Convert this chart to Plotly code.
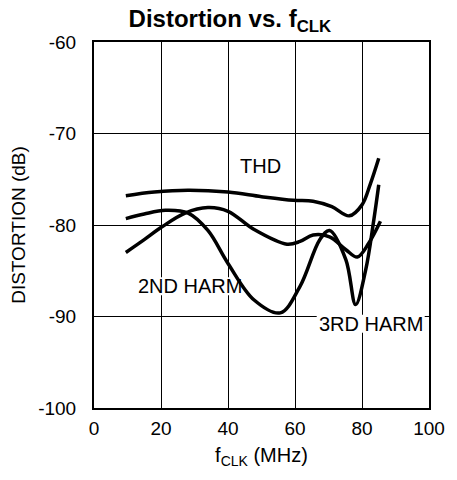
import plotly.graph_objects as go

# Distortion versus clock frequency (dB), read at sample frequencies (MHz)
thd_f = [9.5, 18, 28, 40, 50, 59.5, 65.4, 71, 76.2, 80, 82.5, 85]
thd_db = [-76.8, -76.4, -76.2, -76.4, -76.9, -77.3, -77.4, -78.0, -79.0, -77.8, -75.5, -72.7]

h3_f = [9.5, 15, 21.3, 28.1, 34, 40, 47.8, 55.6, 61.5, 67.4, 70.3, 75.2, 78.1, 81.1, 83.5, 85]
h3_db = [-79.3, -78.8, -78.4, -78.7, -80.6, -84.2, -88.2, -89.6, -86.7, -81.6, -80.6, -83.8, -88.7, -84.9, -79.5, -75.6]

h2_f = [9.5, 15, 20.3, 27.2, 34, 40, 47.8, 57.6, 61.5, 65.4, 70.3, 75.2, 78.6, 82, 85.5]
h2_db = [-83.0, -81.6, -80.2, -78.7, -78.1, -78.5, -80.5, -82.1, -81.8, -81.1, -81.3, -82.7, -83.5, -82.0, -79.6]

x_ticks = [0, 20, 40, 60, 80, 100]
y_ticks = [-100, -90, -80, -70, -60]
y_tick_text = ["-100", "-90", "-80", "-70", "-60"]

# Curve labels: (text, x, y, label box width/height in px)
labels = [
    ("THD", 49.6, -73.6, 0, 0),
    ("2ND HARM", 28.7, -86.7, 106, 18),
    ("3RD HARM", 82.6, -90.8, 108, 18),
]

FONT = "Liberation Sans, Arial, sans-serif"

fig = go.Figure()
for xs, ys in [(thd_f, thd_db), (h3_f, h3_db), (h2_f, h2_db)]:
    fig.add_trace(go.Scatter(
        x=xs, y=ys, mode="lines",
        line=dict(color="black", width=3.5, shape="spline", smoothing=1.0),
        showlegend=False, hoverinfo="skip",
    ))

for text, lx, ly, bw, bh in labels:
    if bw:
        # white patch that hides the grid behind the label but stays under the curves
        fig.add_shape(type="rect", layer="between",
                      xref="x", yref="y",
                      xsizemode="pixel", ysizemode="pixel",
                      xanchor=lx, yanchor=ly,
                      x0=-bw / 2, x1=bw / 2, y0=-bh / 2, y1=bh / 2,
                      fillcolor="white", line=dict(width=0))
    fig.add_annotation(x=lx, y=ly, text=text, showarrow=False,
                       font=dict(family=FONT, size=20, color="black"))

fig.update_layout(
    width=457, height=480,
    margin=dict(l=94, r=23, t=42, b=72),
    paper_bgcolor="white", plot_bgcolor="white",
    font=dict(family=FONT, size=19, color="black"),
    title=dict(text="<b>Distortion vs. f<sub>CLK</sub></b>",
               x=0.503, xref="container", xanchor="center",
               y=0.962, yref="container", yanchor="middle",
               font=dict(family=FONT, size=24, color="black")),
    xaxis=dict(range=[0, 100], tickvals=x_ticks, showgrid=True,
               gridcolor="black", gridwidth=1, zeroline=False,
               showline=True, linecolor="black", linewidth=2, mirror=True,
               ticks="", ticklabelstandoff=2,
               tickfont=dict(family=FONT, size=19),
               title=dict(text="f<sub>CLK</sub> (MHz)", standoff=10,
                          font=dict(family=FONT, size=20))),
    yaxis=dict(range=[-100, -60], tickvals=y_ticks, ticktext=y_tick_text,
               showgrid=True,
               gridcolor="black", gridwidth=1, zeroline=False,
               showline=True, linecolor="black", linewidth=2, mirror=True,
               ticks="", ticklabelstandoff=12,
               tickfont=dict(family=FONT, size=19),
               title=dict(text="DISTORTION (dB)", standoff=8,
                          font=dict(family=FONT, size=19))),
)

fig.write_html("out.html")
